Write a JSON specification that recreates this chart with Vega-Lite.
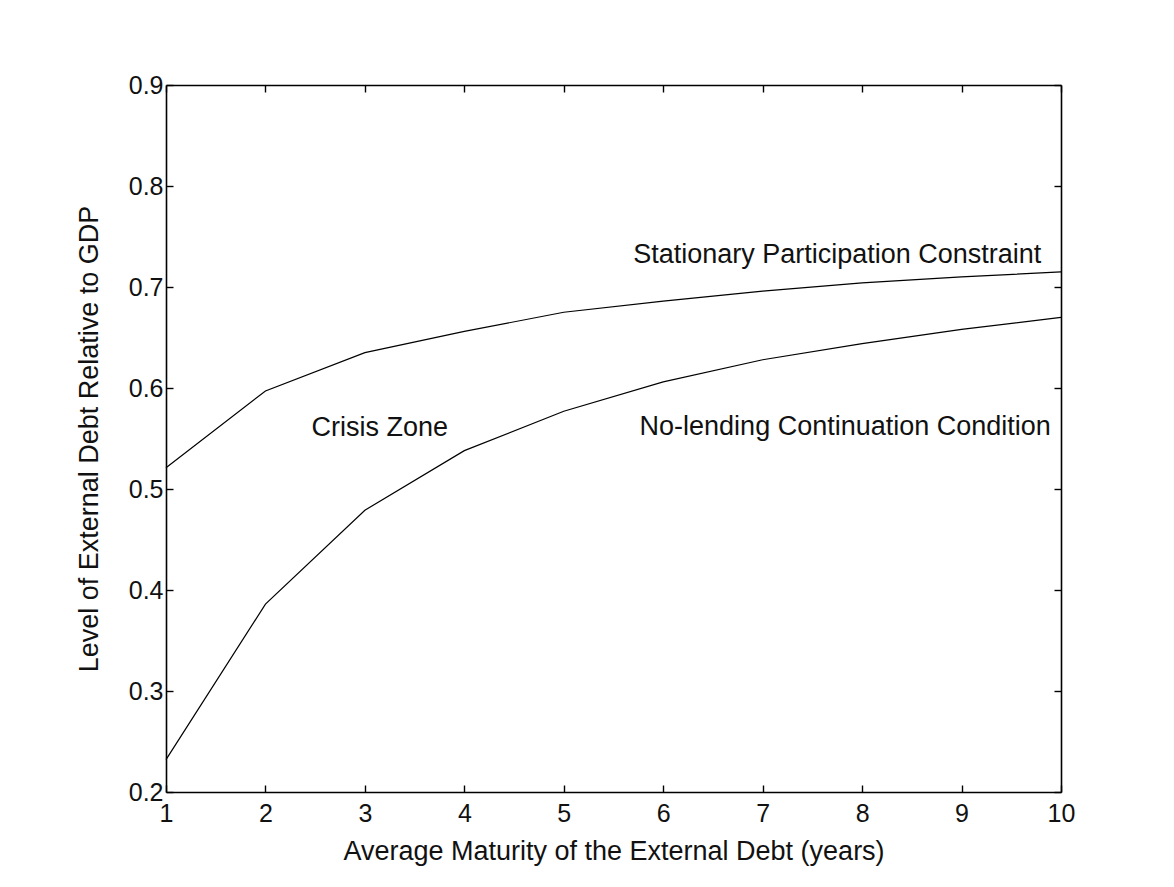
{
  "$schema": "https://vega.github.io/schema/vega-lite/v6.json",
  "width": 895,
  "height": 707,
  "autosize": {"type": "none"},
  "padding": {"left": 166, "top": 85, "right": 113, "bottom": 95},
  "background": "white",
  "config": {
    "view": {"stroke": null},
    "font": "Liberation Sans",
    "axis": {
      "domainColor": "black",
      "domainWidth": 1.6,
      "tickColor": "black",
      "tickWidth": 1.4,
      "tickSize": -7,
      "grid": false,
      "labelFont": "Liberation Sans",
      "labelFontSize": 25,
      "labelColor": "#111",
      "titleFont": "Liberation Sans",
      "titleFontSize": 27,
      "titleFontWeight": "normal",
      "titleColor": "#111"
    }
  },
  "datasets": {
    "curves": [
      {"maturity": 1, "ratio": 0.521, "series": "Stationary Participation Constraint"},
      {"maturity": 2, "ratio": 0.597, "series": "Stationary Participation Constraint"},
      {"maturity": 3, "ratio": 0.635, "series": "Stationary Participation Constraint"},
      {"maturity": 4, "ratio": 0.656, "series": "Stationary Participation Constraint"},
      {"maturity": 5, "ratio": 0.675, "series": "Stationary Participation Constraint"},
      {"maturity": 6, "ratio": 0.686, "series": "Stationary Participation Constraint"},
      {"maturity": 7, "ratio": 0.696, "series": "Stationary Participation Constraint"},
      {"maturity": 8, "ratio": 0.704, "series": "Stationary Participation Constraint"},
      {"maturity": 9, "ratio": 0.710, "series": "Stationary Participation Constraint"},
      {"maturity": 10, "ratio": 0.715, "series": "Stationary Participation Constraint"},
      {"maturity": 1, "ratio": 0.232, "series": "No-lending Continuation Condition"},
      {"maturity": 2, "ratio": 0.386, "series": "No-lending Continuation Condition"},
      {"maturity": 3, "ratio": 0.479, "series": "No-lending Continuation Condition"},
      {"maturity": 4, "ratio": 0.538, "series": "No-lending Continuation Condition"},
      {"maturity": 5, "ratio": 0.577, "series": "No-lending Continuation Condition"},
      {"maturity": 6, "ratio": 0.606, "series": "No-lending Continuation Condition"},
      {"maturity": 7, "ratio": 0.628, "series": "No-lending Continuation Condition"},
      {"maturity": 8, "ratio": 0.644, "series": "No-lending Continuation Condition"},
      {"maturity": 9, "ratio": 0.658, "series": "No-lending Continuation Condition"},
      {"maturity": 10, "ratio": 0.670, "series": "No-lending Continuation Condition"}
    ],
    "labels": [
      {"x": 7.75, "y": 0.7235, "label": "Stationary Participation Constraint"},
      {"x": 7.83, "y": 0.553, "label": "No-lending Continuation Condition"},
      {"x": 3.15, "y": 0.552, "label": "Crisis Zone"}
    ]
  },
  "layer": [
    {
      "data": {"name": "curves"},
      "mark": {"type": "line", "color": "black", "strokeWidth": 1.2},
      "encoding": {
        "x": {
          "field": "maturity",
          "type": "quantitative",
          "scale": {"domain": [1, 10], "nice": false, "zero": false},
          "axis": {
            "orient": "bottom",
            "values": [1, 2, 3, 4, 5, 6, 7, 8, 9, 10],
            "format": "d",
            "labelPadding": 16,
            "labelFlush": false,
            "title": "Average Maturity of the External Debt (years)",
            "titlePadding": 12
          }
        },
        "y": {
          "field": "ratio",
          "type": "quantitative",
          "scale": {"domain": [0.2, 0.9], "nice": false, "zero": false},
          "axis": {
            "orient": "left",
            "values": [0.2, 0.3, 0.4, 0.5, 0.6, 0.7, 0.8, 0.9],
            "format": ".1f",
            "labelPadding": 10,
            "labelFlush": false,
            "title": "Level of External Debt Relative to GDP",
            "titlePadding": 25
          }
        },
        "detail": {"field": "series", "type": "nominal"}
      }
    },
    {
      "data": {"name": "labels"},
      "mark": {"type": "text", "align": "center", "baseline": "alphabetic", "font": "Liberation Sans", "fontSize": 27, "color": "#111"},
      "encoding": {
        "x": {
          "field": "x",
          "type": "quantitative",
          "scale": {"domain": [1, 10], "nice": false, "zero": false},
          "axis": {"orient": "top", "values": [1, 2, 3, 4, 5, 6, 7, 8, 9, 10], "labels": false, "title": null}
        },
        "y": {
          "field": "y",
          "type": "quantitative",
          "scale": {"domain": [0.2, 0.9], "nice": false, "zero": false},
          "axis": {"orient": "right", "values": [0.2, 0.3, 0.4, 0.5, 0.6, 0.7, 0.8, 0.9], "labels": false, "title": null}
        },
        "text": {"field": "label"}
      }
    }
  ],
  "resolve": {"axis": {"x": "independent", "y": "independent"}}
}
